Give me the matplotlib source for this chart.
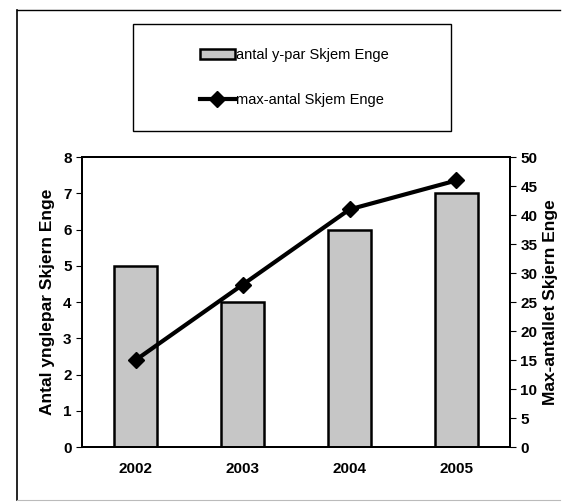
import matplotlib
matplotlib.use("Agg")
import matplotlib.pyplot as plt
from matplotlib.lines import Line2D
from matplotlib.patches import Rectangle

plt.rcParams['font.family'] = ['Liberation Sans', 'DejaVu Sans']

years = ['2002', '2003', '2004', '2005']
ynglepar = [5, 4, 6, 7]
max_antal = [15, 28, 41, 46]

fig = plt.figure(figsize=(5.66, 5.04), dpi=100)
ax = fig.add_axes([0.145, 0.113, 0.756, 0.575])
x = range(len(years))

bars = ax.bar(x, ynglepar, width=0.4, color='#c6c6c6', edgecolor='black', linewidth=1.8,
              label='antal y-par Skjem Enge', zorder=2)
ax.set_ylim(0, 8)
ax.set_xlim(-0.5, 3.5)
ax.set_xticks(list(x))
ax.set_xticklabels(years, fontweight='bold', fontsize=11)
ax.tick_params(axis='x', length=0, pad=11)
ax.tick_params(axis='y', labelsize=11, direction='out', length=4)
for t in ax.get_yticklabels():
    t.set_fontweight('bold')
ax.set_ylabel('Antal ynglepar Skjern Enge', fontweight='bold', fontsize=12.5, labelpad=6)

ax2 = ax.twinx()
line, = ax2.plot(x, max_antal, color='black', linewidth=3, marker='D', markersize=8,
                 label='max-antal Skjem Enge', zorder=3)
ax2.set_ylim(0, 50)
ax2.set_yticks(range(0, 51, 5))
ax2.tick_params(axis='y', labelsize=11, direction='out', length=4)
for t in ax2.get_yticklabels():
    t.set_fontweight('bold')
ax2.set_ylabel('Max-antallet Skjern Enge', fontweight='bold', fontsize=12.5, labelpad=4)

for a in (ax, ax2):
    for s in a.spines.values():
        s.set_linewidth(1.4)

# legend box
fig.add_artist(Rectangle((0.235, 0.74), 0.562, 0.212, transform=fig.transFigure,
                         facecolor='white', edgecolor='black', linewidth=1.0))
leg = fig.legend([bars, line], ['antal y-par Skjem Enge', 'max-antal Skjem Enge'],
                 loc='center', bbox_to_anchor=(0.52, 0.846),
                 frameon=False, fontsize=10.5,
                 labelspacing=2.1, handlelength=2.4, handletextpad=0.1)

# outer chart frame
fig.add_artist(Line2D([0.03, 0.03], [0.008, 0.98], color='black', linewidth=1.2, transform=fig.transFigure))
fig.add_artist(Line2D([0.03, 0.99], [0.98, 0.98], color='black', linewidth=1.0, transform=fig.transFigure))
fig.add_artist(Line2D([0.03, 0.99], [0.008, 0.008], color='#bbbbbb', linewidth=0.8, transform=fig.transFigure))

fig.savefig('out.png', dpi=100)
